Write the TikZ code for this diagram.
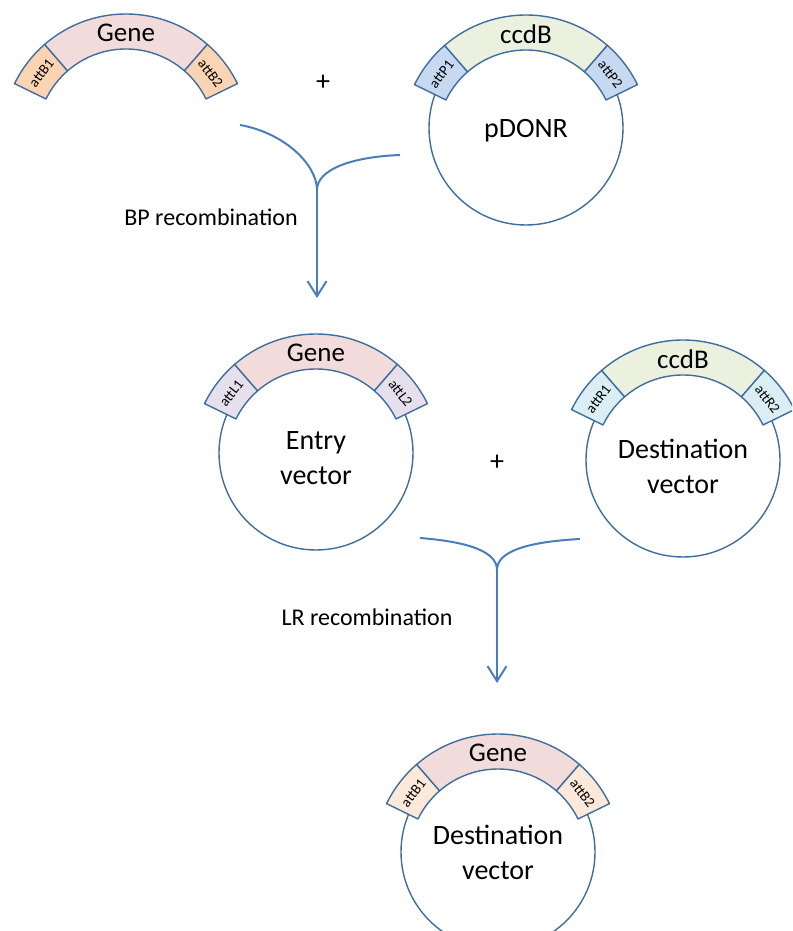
\documentclass[tikz,border=0pt]{standalone}
\usepackage{fontspec}
\setmainfont{Carlito}
\usepackage{tikz}
\usetikzlibrary{arrows.meta, calc}
\definecolor{vecline}{HTML}{3F6E9E}
\definecolor{flowblue}{HTML}{4A7EBB}
\definecolor{genefill}{HTML}{F2DCDB}
\definecolor{ccdbfill}{HTML}{EBF1DE}
\definecolor{attbfill}{HTML}{FBD4B4}
\definecolor{attbpale}{HTML}{FDE9D9}
\definecolor{attpfill}{HTML}{C6D9F1}
\definecolor{attlfill}{HTML}{E6E0EC}
\definecolor{attrfill}{HTML}{DBEEF4}

\tikzset{
  band/.style={draw=vecline, line width=1.4pt, line join=round},
  plasmid/.style={circle, draw=vecline, line width=1.4pt, fill=white,
                  minimum size=194pt, inner sep=0pt},
  plasmidtext/.style={align=center, inner sep=0pt, font=\fontsize{28}{35}\selectfont},
  bandlabel/.style={font=\fontsize{27}{30}\selectfont, inner sep=0pt},
  sitelabel/.style={font=\fontsize{14.5}{16}\selectfont, inner sep=0pt},
  steplabel/.style={font=\fontsize{24}{28}\selectfont},
  pluslabel/.style={font=\fontsize{28}{30}\selectfont},
  flow/.style={draw=flowblue, line width=2pt},
  flowarrow/.style={flow, -{Straight Barb[length=15pt, width=19pt]}}
}

% #1 centre of the arc, #2 middle fill, #3 end fill, #4 middle text, #5 left site, #6 right site
\newcommand{\attband}[6]{%
  \draw[band, fill=#3] ([shift={(131:89pt)}]#1) arc[start angle=131, end angle=154, radius=89pt]
      -- ([shift={(154:124pt)}]#1) arc[start angle=154, end angle=131, radius=124pt] -- cycle;
  \draw[band, fill=#2] ([shift={(49:89pt)}]#1) arc[start angle=49, end angle=131, radius=89pt]
      -- ([shift={(131:124pt)}]#1) arc[start angle=131, end angle=49, radius=124pt] -- cycle;
  \draw[band, fill=#3] ([shift={(26:89pt)}]#1) arc[start angle=26, end angle=49, radius=89pt]
      -- ([shift={(49:124pt)}]#1) arc[start angle=49, end angle=26, radius=124pt] -- cycle;
  \node[bandlabel] (#1-mid) at ([shift={(90:105pt)}]#1) {#4};
  \node[sitelabel, rotate=52.5] (#1-left) at ([shift={(142.5:106.5pt)}]#1) {#5};
  \node[sitelabel, rotate=-52.5] (#1-right) at ([shift={(37.5:106.5pt)}]#1) {#6};
}

\begin{document}
\begin{tikzpicture}[x=1pt, y=1pt]
    \clip (0,0) rectangle (792,931);

    % BP reaction
    \coordinate (genearc) at (126,793);
    \attband{genearc}{genefill}{attbfill}{Gene}{attB1}{attB2}

    \node[pluslabel] (plus1) at (323,848) {+};

    \node[plasmid] (pdonr) at (526,803) {};
    \coordinate (pdonrarc) at (526,792);
    \attband{pdonrarc}{ccdbfill}{attpfill}{ccdB}{attP1}{attP2}
    \node[plasmidtext] (pdonr-text) at ([yshift=-3pt]pdonr) {pDONR};

    \coordinate (bpleft) at (240,806);
    \coordinate (bpright) at (400,776);
    \coordinate (bpjoin) at (317,741);
    \coordinate (bptip) at (317,633);
    \draw[flow] (bpleft) .. controls (285,798) and (317,766) .. (bpjoin);
    \draw[flow] (bpright) .. controls (350,774) and (317,761) .. (bpjoin);
    \draw[flowarrow] (bpjoin) -- (bptip);
    \node[steplabel] (bplabel) at (211,714) {BP recombination};

    % LR reaction
    \node[plasmid] (entry) at (316,478) {};
    \coordinate (entryarc) at (316,473);
    \attband{entryarc}{genefill}{attlfill}{Gene}{attL1}{attL2}
    \node[plasmidtext] (entry-text) at ([yshift=-5pt]entry) {Entry\\vector};

    \node[pluslabel] (plus2) at (497,468) {+};

    \node[plasmid] (dest) at (683,471) {};
    \coordinate (destarc) at (683,467);
    \attband{destarc}{ccdbfill}{attrfill}{ccdB}{attR1}{attR2}
    \node[plasmidtext] (dest-text) at ([yshift=-6pt]dest) {Destination\\vector};

    \coordinate (lrleft) at (420,393);
    \coordinate (lrright) at (580,392);
    \coordinate (lrjoin) at (497,361);
    \coordinate (lrtip) at (497,248);
    \draw[flow] (lrleft) .. controls (470,389) and (497,379) .. (lrjoin);
    \draw[flow] (lrright) .. controls (525,389) and (497,379) .. (lrjoin);
    \draw[flowarrow] (lrjoin) -- (lrtip);
    \node[steplabel] (lrlabel) at (367,314) {LR recombination};

    % expression clone
    \node[plasmid] (expr) at (498,79) {};
    \coordinate (exprarc) at (498,73);
    \attband{exprarc}{genefill}{attbpale}{Gene}{attB1}{attB2}
    \node[plasmidtext] (expr-text) at (expr) {Destination\\vector};
\end{tikzpicture}
\end{document}
